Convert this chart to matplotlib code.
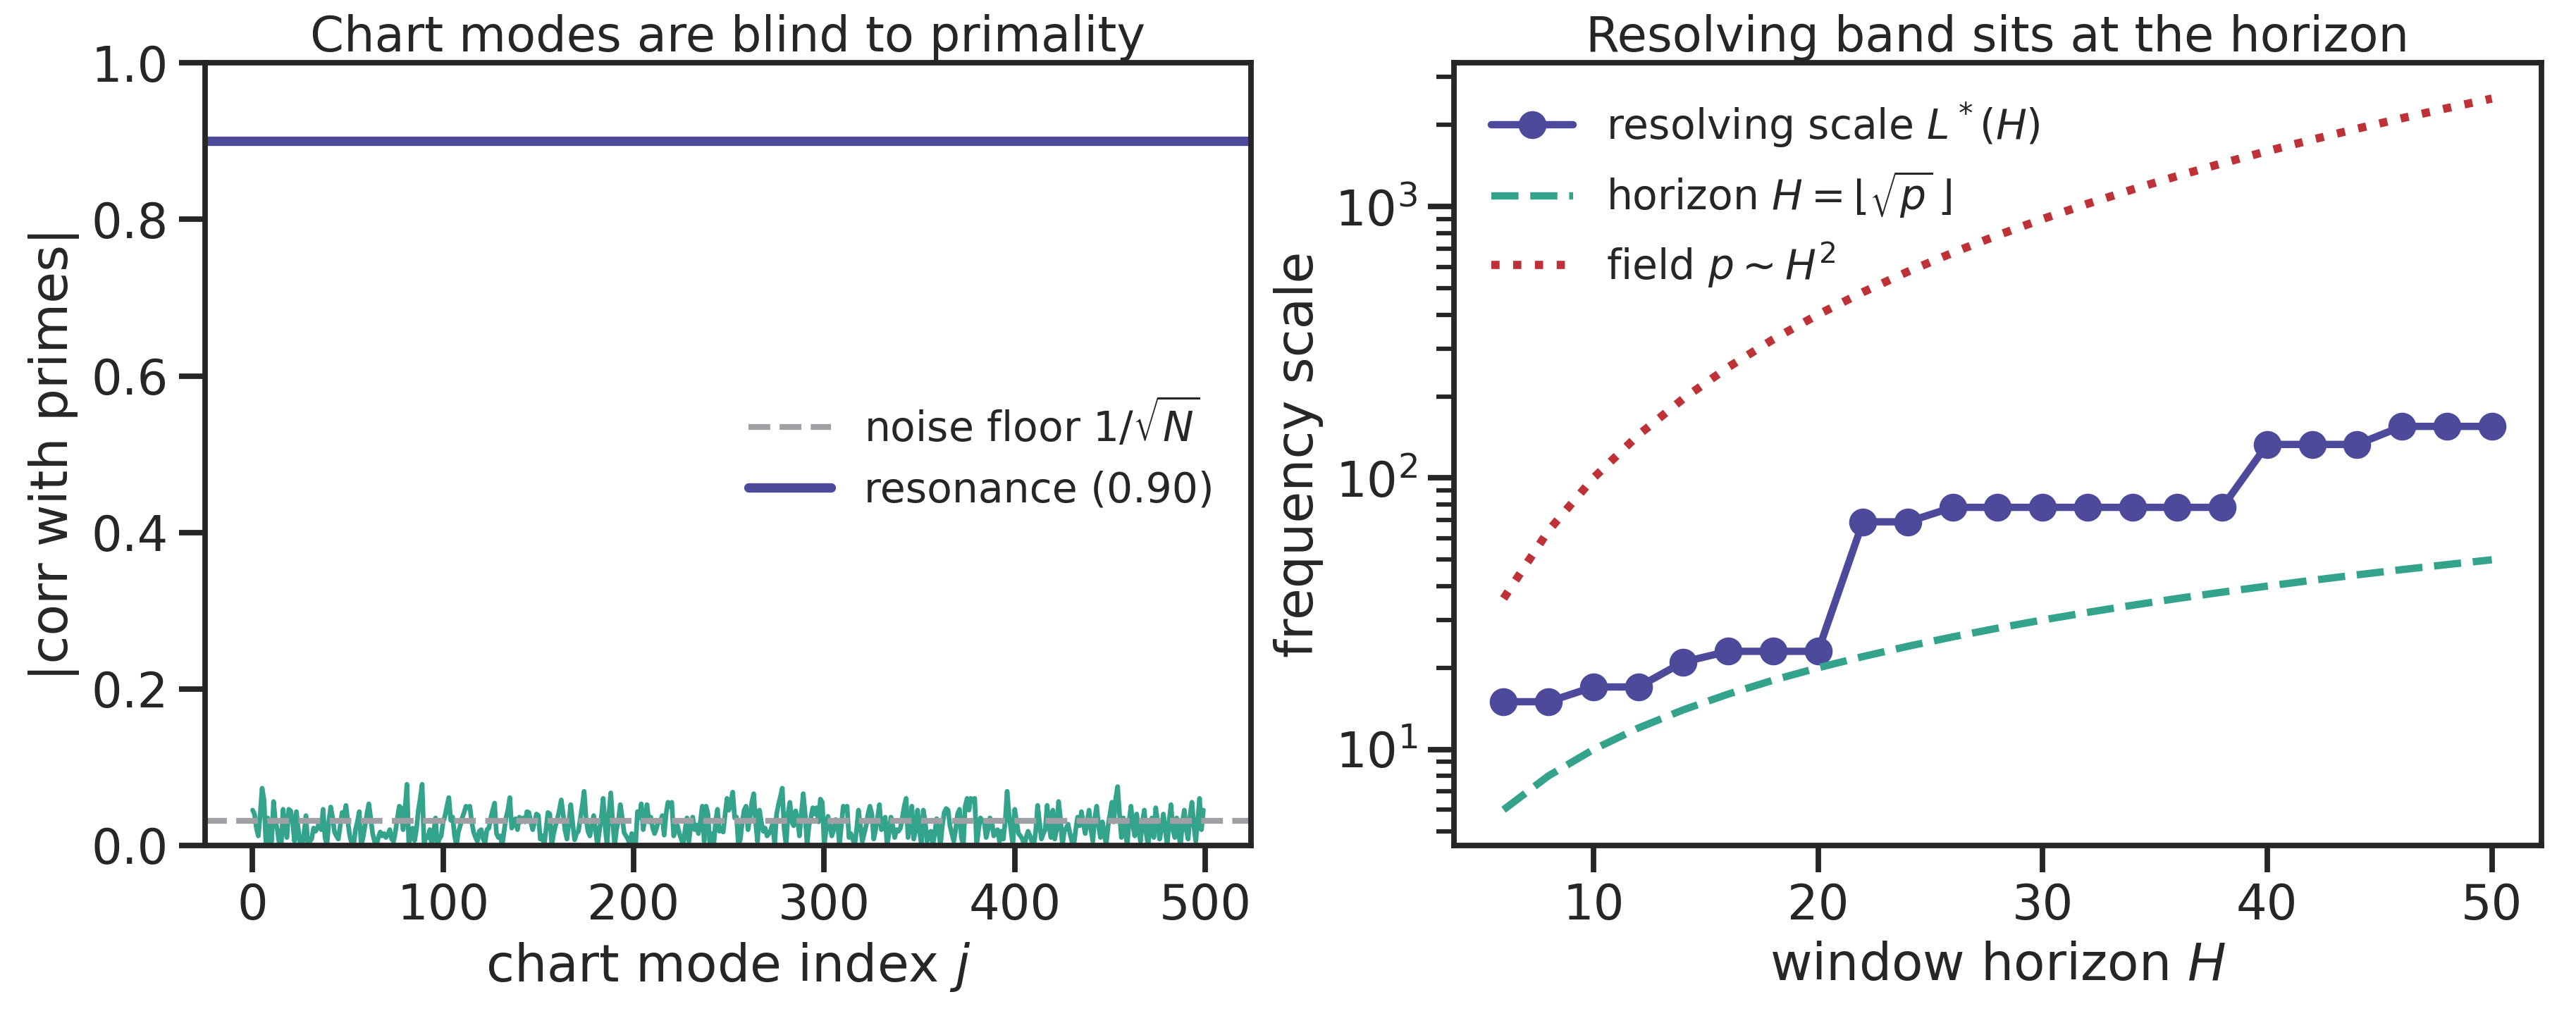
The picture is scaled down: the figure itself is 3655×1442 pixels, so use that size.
import numpy as np
import matplotlib
matplotlib.use("Agg")
import matplotlib.pyplot as plt
import seaborn as sns

# |corr| of each chart mode with the prime indicator, in thousandths
corr_milli = [
    45, 40, 22, 12, 40, 73, 58, 2, 35, 0,
    5, 56, 30, 20, 2, 0, 46, 25, 10, 46,
    44, 30, 5, 43, 20, 0, 0, 15, 38, 0,
    5, 8, 22, 18, 22, 30, 20, 46, 10, 0,
    30, 49, 35, 17, 12, 8, 25, 42, 38, 51,
    30, 12, 3, 0, 20, 30, 43, 0, 10, 25,
    40, 53, 35, 15, 5, 0, 10, 17, 12, 15,
    10, 14, 20, 8, 5, 18, 35, 50, 48, 20,
    45, 78, 0, 15, 22, 6, 20, 45, 60, 78,
    0, 12, 10, 20, 0, 15, 35, 0, 8, 12,
    30, 38, 50, 61, 32, 36, 12, 0, 17, 25,
    35, 42, 50, 48, 50, 30, 17, 10, 5, 18,
    20, 8, 3, 20, 22, 35, 45, 54, 15, 10,
    12, 0, 18, 35, 45, 61, 22, 28, 34, 20,
    36, 30, 35, 30, 43, 42, 30, 20, 30, 40,
    38, 8, 12, 0, 20, 42, 40, 0, 15, 25,
    34, 45, 58, 40, 19, 8, 30, 52, 28, 7,
    15, 18, 34, 50, 69, 35, 18, 12, 25, 38,
    20, 0, 18, 35, 60, 25, 0, 40, 67, 30,
    0, 20, 32, 52, 35, 16, 12, 8, 0, 15,
    12, 0, 43, 35, 53, 20, 35, 52, 30, 36,
    22, 15, 22, 32, 30, 38, 13, 40, 55, 50,
    55, 12, 20, 25, 15, 8, 0, 20, 35, 5,
    25, 36, 20, 26, 15, 30, 50, 5, 50, 40,
    0, 15, 0, 30, 46, 18, 20, 17, 40, 60,
    45, 55, 68, 35, 36, 0, 8, 30, 45, 50,
    20, 35, 55, 66, 30, 5, 45, 30, 18, 22,
    12, 15, 20, 28, 0, 40, 52, 62, 73, 20,
    0, 40, 55, 30, 25, 44, 35, 12, 40, 66,
    40, 0, 25, 35, 48, 40, 48, 30, 59, 55,
    0, 20, 37, 25, 12, 20, 33, 30, 0, 25,
    50, 45, 50, 10, 15, 8, 0, 20, 45, 25,
    5, 15, 25, 40, 50, 40, 8, 20, 35, 52,
    20, 22, 36, 0, 15, 36, 25, 10, 20, 18,
    22, 35, 50, 60, 10, 25, 50, 8, 20, 45,
    20, 0, 45, 30, 5, 15, 18, 0, 15, 34,
    20, 0, 25, 42, 47, 45, 25, 15, 5, 20,
    40, 46, 10, 0, 50, 60, 45, 60, 58, 60,
    0, 20, 35, 32, 30, 10, 20, 35, 30, 12,
    18, 20, 5, 18, 8, 30, 69, 40, 20, 0,
    46, 30, 15, 12, 8, 0, 10, 18, 12, 5,
    0, 18, 51, 30, 8, 15, 20, 51, 25, 10,
    45, 8, 20, 56, 35, 0, 18, 22, 27, 15,
    5, 0, 20, 36, 25, 43, 28, 15, 30, 45,
    20, 5, 35, 50, 25, 10, 30, 15, 0, 25,
    40, 55, 30, 60, 75, 40, 10, 35, 20, 0,
    30, 50, 25, 12, 40, 20, 5, 30, 45, 15,
    0, 25, 35, 10, 48, 30, 8, 20, 40, 22,
    0, 30, 52, 20, 10, 35, 15, 0, 28, 45,
    20, 8, 38, 55, 25, 5, 30, 60, 20, 45,
]
noise_floor = 0.0316
resonance = 0.90

# right panel
horizon_H = [6, 8, 10, 12, 14, 16, 18, 20, 22, 24, 26, 28,
             30, 32, 34, 36, 38, 40, 42, 44, 46, 48, 50]
resolving_L = [15, 15, 17, 17, 21, 23, 23, 23, 69, 69, 78, 78,
               78, 78, 78, 78, 78, 133, 133, 133, 155, 155, 155]
field_p = [36, 64, 100, 144, 196, 256, 324, 400, 484, 576, 676, 784,
           900, 1024, 1156, 1296, 1444, 1600, 1764, 1936, 2116, 2304, 2500]

purple = "#4e4a9b"
teal = "#33a38c"
red = "#be3237"
grey = "#a0a0a4"

sns.set_theme(style="ticks", context="talk")
plt.rcParams["font.family"] = ["DejaVu Sans"]
plt.rcParams["mathtext.fontset"] = "dejavusans"

fig = plt.figure(figsize=(3655 / 300, 1442 / 300), dpi=300)
ax1 = fig.add_axes([0.0796, 0.168, 0.406, 0.770])
ax2 = fig.add_axes([0.5645, 0.168, 0.422, 0.770])

# left: chart modes vs primes
corr = np.array(corr_milli) / 1000.0
modes = np.arange(len(corr))
ax1.plot(modes, corr, color=teal, lw=1.6)
ax1.axhline(noise_floor, color=grey, ls="--", lw=2, label=r"noise floor $1/\sqrt{N}$")
ax1.axhline(resonance, color=purple, lw=3.2, label="resonance (0.90)")
ax1.set_ylim(0, 1.0)
ax1.set_xticks([0, 100, 200, 300, 400, 500])
ax1.set_xlabel(r"chart mode index $j$", fontsize=17.5)
ax1.set_ylabel("|corr with primes|", fontsize=17.5)
ax1.set_title("Chart modes are blind to primality", fontsize=16.5, pad=4)
ax1.legend(loc="center right", frameon=False, fontsize=14)

# right: resolving band vs horizon
ax2.plot(horizon_H, resolving_L, color=purple, lw=2.5, marker="o", ms=8.5,
         label=r"resolving scale $L^*(H)$")
ax2.plot(horizon_H, horizon_H, color=teal, ls="--", lw=2.5,
         label=r"horizon $H=\lfloor\sqrt{p}\,\rfloor$")
ax2.plot(horizon_H, field_p, color=red, ls=":", lw=2.8, label=r"field $p\sim H^2$")
ax2.set_yscale("log")
ax2.set_xticks([10, 20, 30, 40, 50])
ax2.set_xlabel(r"window horizon $H$", fontsize=17.5)
ax2.set_ylabel("frequency scale", fontsize=17.5)
ax2.set_title("Resolving band sits at the horizon", fontsize=16.5, pad=4)
ax2.legend(loc="upper left", frameon=False, fontsize=14)

for ax in (ax1, ax2):
    ax.tick_params(labelsize=16.5)

fig.savefig("out.png", dpi=300)
